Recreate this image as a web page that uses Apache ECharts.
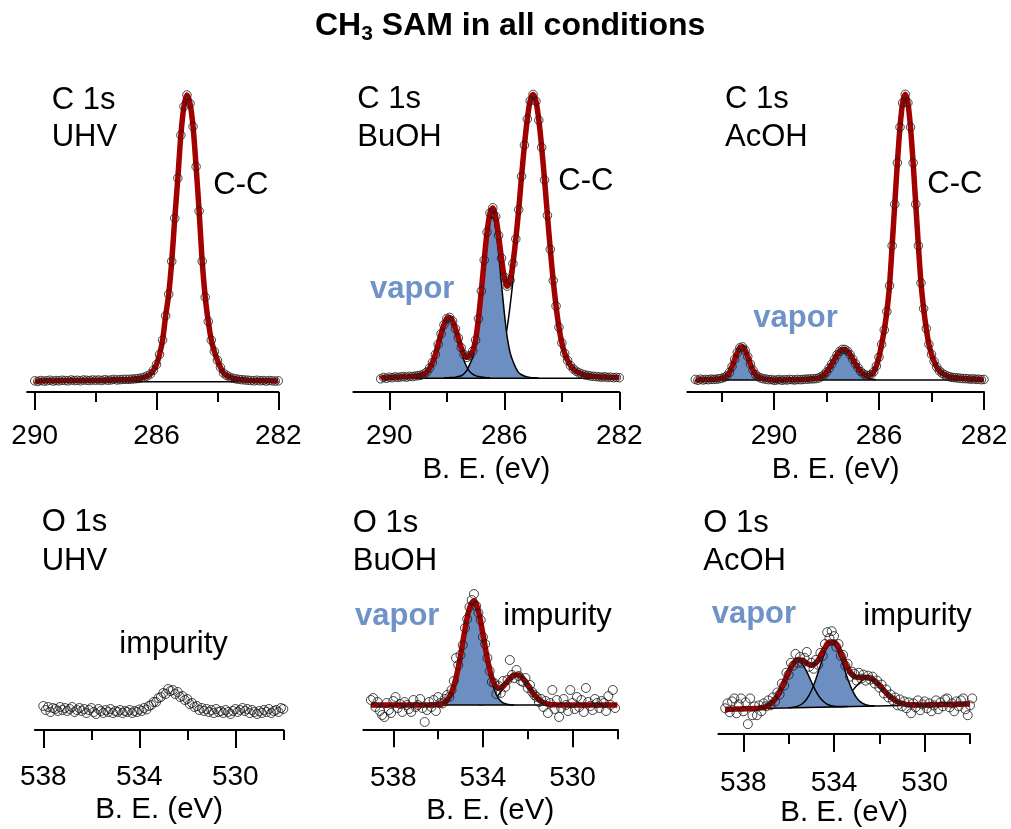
<!DOCTYPE html>
<html>
<head>
<meta charset="utf-8">
<script src="https://cdn.jsdelivr.net/npm/echarts@6/dist/echarts.min.js"></script>
<style>
  html, body { margin: 0; padding: 0; background: #fff; }
  #chart { width: 1011px; height: 829px; }
</style>
</head>
<body>
<div id="chart"></div>
<script>
// XPS spectra of the CH3 SAM: binding energy in eV, intensity in arbitrary units.
// Measured points are sampled every 0.1 eV from the start energy downwards;
// fit curves and components of the O 1s spectra every 0.2 eV.

// ---- C 1s, UHV (from 290.0 eV) ----
const c1sUhvStart = 290.0;
const c1sUhvCounts = [
  0.3, 0.1, 0.4, 0.2, 0.3, 0.5, 0.2, 0.4, 0.3, 0.5,
  0.4, 0.3, 0.6, 0.4, 0.5, 0.3, 0.6, 0.5, 0.4, 0.6,
  0.5, 0.6, 0.4, 0.7, 0.5, 0.6, 0.8, 0.6, 0.7, 0.8,
  0.8, 0.8, 0.9, 1.0, 1.1, 1.3, 1.6, 2.0, 2.7, 4.0,
  6.0, 9.5, 14.5, 23, 30.5, 42, 57, 71, 86, 96,
  100, 97, 89, 75, 59.5, 42, 29.5, 21, 14.5, 10.5,
  7.5, 5, 3, 2.2, 1.6, 1.2, 1.0, 0.8, 0.7, 0.6,
  0.5, 0.4, 0.3, 0.5, 0.3, 0.4, 0.2, 0.4, 0.3, 0.2, 0.3
];

// ---- C 1s, BuOH (from 290.3 eV) ----
const c1sBuohStart = 290.3;
const c1sBuohCounts = [
  -0.2, 0.3, 0.0, 0.4, 0.2, 0.5, 0.3, 0.5, 0.6, 0.4,
  0.7, 0.6, 0.8, 0.9, 1.1, 1.5, 2.2, 3.6, 5.6, 8.4,
  12.0, 15.7, 18.9, 21.1, 21.5, 20.2, 17.5, 14.2, 10.8, 8.4,
  7.4, 8.0, 9.6, 13.5, 21.0, 30.8, 41.7, 51.6, 58.3, 60.2,
  57.1, 50.4, 42.4, 35.7, 32.5, 34.6, 40.5, 49.2, 59.5, 71.3,
  82.3, 91.5, 98.0, 100.2, 97.8, 91.1, 81.5, 70.0, 57.5, 45.5,
  34.5, 25.5, 18.0, 12.5, 8.8, 6.3, 4.5, 3.3, 2.5, 1.9,
  1.5, 1.2, 1.0, 0.8, 0.7, 0.6, 0.5, 0.4, 0.5, 0.3,
  0.4, 0.2, 0.3, 0.2
];
const c1sBuohVapor1Start = 289.6;
const c1sBuohVapor1 = [
  0.13, 0.17, 0.2, 0.25, 0.34, 0.46, 0.63, 0.84, 1.26, 2.1,
  3.36, 5.36, 8.1, 11.6, 15.3, 18.5, 20.6, 20.9, 19.5, 16.7,
  13.1, 9.4, 6.2, 3.9, 2.3, 1.5, 0.95, 0.63, 0.42, 0.32, 0.21, 0.17
];
const c1sBuohVapor2Start = 288.1;
const c1sBuohVapor2 = [
  0.15, 0.2, 0.25, 0.3, 0.4, 0.6, 0.9, 1.6, 2.85, 5.0,
  7.4, 11.7, 19.4, 29.2, 39.9, 49.5, 55.6, 56.8, 52.5, 44.0,
  33.5, 23.1, 14.5, 9.1, 6.0, 3.7, 2.0, 1.25, 0.8, 0.5,
  0.3, 0.2, 0.15, 0.1
];
const c1sBuohCCStart = 287.0;
const c1sBuohCC = [
  0.8, 1.0, 1.2, 1.5, 1.9, 2.5, 3.3, 4.5, 6.3, 8.8,
  12.5, 18, 25.5, 34.5, 45.5, 57.5, 70, 81.5, 91, 97.7,
  100, 97.7, 91, 81.5, 70, 57.5, 45.5, 34.5, 25.5, 18,
  12.5, 8.8, 6.3, 4.5, 3.3, 2.5, 1.9, 1.5, 1.2, 1.0, 0.8
];

// ---- C 1s, AcOH (from 293.0 eV) ----
const c1sAcohStart = 293.0;
const c1sAcohCounts = [
  0.2, -0.1, 0.3, 0.0, 0.2, 0.1, 0.3, 0.2, 0.3, 0.4,
  0.6, 0.9, 1.4, 2.7, 4.7, 7.2, 9.6, 11.3, 11.6, 10.4,
  8.2, 5.6, 3.4, 1.9, 1.1, 0.7, 0.4, 0.3, 0.1, 0.2,
  -0.1, 0.0, 0.2, -0.1, 0.1, 0.0, 0.2, 0.1, 0.0, 0.2,
  0.1, 0.2, 0.3, 0.3, 0.4, 0.4, 0.5, 0.7, 1.15, 1.8,
  2.8, 4.1, 5.6, 7.2, 8.8, 10.0, 10.7, 10.7, 10.1, 8.9,
  7.3, 5.7, 4.3, 3.0, 2.2, 1.7, 1.5, 1.9, 2.9, 4.9,
  8.0, 12.5, 17.5, 24, 33, 47, 61.5, 76, 88.5, 97,
  100, 97, 88.5, 76, 61.5, 47, 34, 25, 18, 12.5,
  9, 6.5, 4.5, 3.2, 2.4, 1.8, 1.4, 1.1, 0.9, 0.8,
  0.7, 0.6, 0.5, 0.5, 0.4, 0.3, 0.4, 0.2, 0.3, 0.1,
  0.2
];
const c1sAcohVapor1Start = 292.2;
const c1sAcohVapor1 = [
  0.1, 0.2, 0.35, 0.65, 1.25, 2.5, 4.5, 7.0, 9.4, 11.1,
  11.4, 10.2, 8.0, 5.45, 3.2, 1.7, 0.9, 0.5, 0.3, 0.2
];
const c1sAcohVapor2Start = 288.6;
const c1sAcohVapor2 = [
  0.07, 0.14, 0.28, 0.54, 0.98, 1.65, 2.6, 3.9, 5.4, 7.0,
  8.55, 9.75, 10.4, 10.4, 9.75, 8.55, 7.0, 5.4, 3.9, 2.6,
  1.65, 0.98, 0.54, 0.28, 0.14, 0.07
];

// ---- O 1s, UHV (from 538.0 eV) ----
const o1sUhvStart = 538.0;
const o1sUhvCounts = [
  4, 0, 3, -2, 2, 1, -1, 3, 0, 2,
  -1, 1, 3, -2, 0, 2, -1, 1, -3, 0,
  2, -2, -4, 1, -1, -3, 0, -2, 1, -3,
  -1, -2, 0, -3, -1, -2, 0, -3, -1, -2,
  0.5, -1, 2, 0.5, 4, 5, 8, 8, 12, 13,
  17, 16, 21, 19, 20, 16, 18, 13, 14, 10,
  11, 6, 7, 3, 4, 0, 2, -1, 1, -2,
  0, -3, 1, -2, -1, -3, 0, -2, -4, -1,
  1, -2, 0, 2, -1, 1, -3, 0, -2, -4,
  -1, -3, 0, -2, 1, -3, -1, 0, -2, 2,
  1
];

// ---- O 1s, BuOH (from 539.0 eV) ----
const o1sBuohStart = 539.0;
const o1sBuohCounts = [
  5, 7, -2, 3, -6, -10, -12, 2, -5, -8,
  4, 8, -3, 1, -7, 3, 0, -4, -7, 5,
  -2, 0, 6, -3, -17, -5, 3, -2, 5, -6,
  8, 2, 1.5, 6, 10, 8, 15, 24, 47, 40,
  50, 60, 77, 86, 98, 105, 111, 99, 92, 85,
  68, 61, 47, 34, 23, 22, 11, 19, 12, 24,
  18, 25, 45, 30, 27, 35, 29, 24, 23, 27,
  17, 20, 13, 10, 8, 3, 6, -2, 4, -8,
  2, 15, -4, 5, -12, -3, 6, 0, -6, 15,
  2, -4, 8, -2, 5, -7, 17, 3, -1, -5,
  6, 2, -3, 4, 2, -6, 9, 0, 15, -3
];
const o1sBuohFit = [
  0, 0, 0, 0, 0, 0, 0, 0, 0, 0,
  0, 0, 0, 0, 0.1, 0.4, 1.5, 4.7, 12.4, 27.0,
  49.3, 75.5, 96.8, 104.0, 93.6, 70.9, 46.1, 27.2, 17.9, 17.0,
  21.1, 26.4, 30.0, 30.0, 26.1, 19.9, 13.2, 7.6, 3.8, 1.7,
  0.6, 0.2, 0, 0, 0, 0, 0, 0, 0, 0,
  0, 0, 0, 0, 0, 0
];
const o1sBuohVaporStart = 536.4;
const o1sBuohVapor = [
  0, 0.1, 0.4, 1.5, 4.7, 12.4, 27.0, 49.3, 75.5, 96.8,
  104.0, 93.4, 70.3, 44.4, 23.4, 10.3, 3.8, 1.2, 0.3, 0.1
];
const o1sBuohImpurityStart = 534.2;
const o1sBuohImpurity = [
  0.2, 0.6, 1.7, 3.8, 7.6, 13.2, 19.9, 26.1, 30.0, 30.0,
  26.1, 19.9, 13.2, 7.6, 3.8, 1.7, 0.6, 0.2
];

// ---- O 1s, AcOH (from 538.8 eV) ----
const o1sAcohStart = 538.8;
const o1sAcohCounts = [
  1, 6, -3, 8, 11, -4, 5, 11, -2, 7,
  -15, 11, -6, 3, -6, 4, -2, 6, 3, 9,
  4, 12, 8, 17, 15, 26, 24, 37, 35, 47,
  44, 56, 47, 53, 47, 52, 58, 43, 47, 41,
  50, 45, 57, 54, 66, 78, 72, 79, 74, 63,
  66, 54, 55, 44, 46, 33, 38, 36, 29, 37,
  31, 35, 29, 34, 30, 33, 26, 29, 22, 25,
  16, 20, 12, 15, 9, 12, 4, 10, 3, 8,
  1, 7, -4, 6, 2, 9, -1, 5, 8, 1,
  6, -2, 4, 9, 0, 7, 3, 10, 11, 2,
  6, -2, 8, 3, 9, 11, 0, -6, 4, 11
];
const o1sAcohFit = [
  0, 0.1, 0.2, 0.3, 0.4, 0.5, 0.66, 0.9, 1.5, 2.7,
  5.4, 10.1, 17.5, 27.2, 37.7, 46.0, 50.1, 49.6, 46.5, 44.6,
  46.8, 53.7, 62.2, 68.0, 68.1, 61.7, 51.8, 41.9, 35.3, 32.3,
  32.1, 32.3, 31.4, 28.7, 24.2, 19.2, 14.3, 10.4, 7.6, 5.9,
  4.9, 4.5, 4.35, 4.35, 4.4, 4.5, 4.6, 4.7, 4.8, 4.9,
  5.0, 5.1, 5.2, 5.3, 5.4
];
const o1sAcohVapor1Start = 537.8;
const o1sAcohVapor1 = [
  0.5, 0.7, 0.9, 1.5, 2.7, 5.4, 10.1, 17.5, 27.2, 37.5,
  45.5, 48.6, 45.7, 37.9, 27.8, 18.3, 11.1, 6.6, 4.1, 3.1,
  2.7, 2.7, 2.7
];
const o1sAcohVapor2Start = 536.0;
const o1sAcohVapor2 = [
  1.6, 2.0, 3.1, 5.6, 10.4, 18.7, 30.5, 44.5, 57.4, 65.3,
  65.4, 57.7, 45.0, 31.2, 19.6, 11.5, 6.9, 4.6, 3.7, 3.5
];
const o1sAcohImpurityStart = 534.4;
const o1sAcohImpurity = [
  2.6, 3.2, 4.4, 6.3, 9.3, 13.4, 18.5, 23.7, 28.2, 30.8,
  30.9, 28.5, 24.2, 19.2, 14.3, 10.4, 7.6, 5.9, 4.9, 4.5, 4.35
];

// Background lines: [B.E., intensity] end points
const c1sUhvBackground = [[290.0, 0], [282.0, 0]];
const c1sBuohBackground = [[290.3, 0], [282.0, 0]];
const c1sAcohBackground = [[293.0, 0], [282.0, 0]];
const o1sBuohBackground = [[539.0, 0], [528.0, 0]];
const o1sAcohBackground = [[538.8, 0], [528.0, 5.4]];

// axis tick values
const c1sMajorTicks = [290, 286, 282];
const c1sMinorTicks = [288, 284];
const c1sAcohMinorTicks = [292, 288, 284];
const o1sMajorTicks = [538, 534, 530];
const o1sMinorTicks = [536, 532, 528];

// ---- drawing ----
const STEP = 0.1, FIT_STEP = 0.2;
const FONT = '"Liberation Sans", Arial, Helvetica, sans-serif';
const RED = '#a30000';
const BLUE_FILL = '#6d8ec0';
const BLUE_TEXT = '#7093c7';

function pts(start, dx, ys) {
  return ys.map((y, i) => [+(start - dx * i).toFixed(2), y]);
}

const panels = [
  { grid: { left: 27.1, top: 60, width: 251.2, height: 332 }, x: [282, 290.25], y: [-3.6, 112.2],
    major: c1sMajorTicks, minor: c1sMinorTicks, name: '', margin: 30, gap: 63 },
  { grid: { left: 353.4, top: 60, width: 265.9, height: 332 }, x: [282, 291.25], y: [-4.84, 112.35],
    major: c1sMajorTicks, minor: c1sMinorTicks, name: 'B. E. (eV)', margin: 30, gap: 63 },
  { grid: { left: 687.4, top: 60, width: 296.6, height: 332 }, x: [282, 293.3], y: [-4.2, 112.0],
    major: c1sMajorTicks, minor: c1sAcohMinorTicks, name: 'B. E. (eV)', margin: 30, gap: 63 },
  { grid: { left: 34.9, top: 560, width: 248.4, height: 170 }, x: [528, 538.35], y: [-20, 150],
    major: o1sMajorTicks, minor: o1sMinorTicks, name: 'B. E. (eV)', margin: 33, gap: 65 },
  { grid: { left: 363.3, top: 560, width: 254.0, height: 169.3 }, x: [528, 539.34], y: [-24.3, 145],
    major: o1sMajorTicks, minor: o1sMinorTicks, name: 'B. E. (eV)', margin: 35, gap: 67 },
  { grid: { left: 718.4, top: 560, width: 251.6, height: 176 }, x: [528, 539.1], y: [-25, 151],
    major: o1sMajorTicks, minor: o1sMinorTicks, name: 'B. E. (eV)', margin: 35, gap: 64 }
];

const grids = [], xAxes = [], yAxes = [], series = [];

panels.forEach((p, k) => {
  grids.push(Object.assign({ containLabel: false }, p.grid));
  xAxes.push({
    type: 'value', gridIndex: k, min: p.x[0], max: p.x[1], inverse: true, position: 'bottom',
    axisLine: { show: true, onZero: false, lineStyle: { color: '#000', width: 2 } },
    axisTick: { show: true, length: 18, lineStyle: { color: '#000', width: 2 }, customValues: p.major },
    axisLabel: { show: true, customValues: p.major, margin: p.margin, color: '#000',
                 fontSize: 28, fontFamily: FONT },
    splitLine: { show: false },
    name: p.name, nameLocation: 'middle', nameGap: p.gap,
    nameTextStyle: { color: '#000', fontSize: 29.5, fontFamily: FONT }
  });
  xAxes.push({
    type: 'value', gridIndex: k, min: p.x[0], max: p.x[1], inverse: true, position: 'bottom',
    axisLine: { show: false, onZero: false },
    axisTick: { show: true, length: 10, lineStyle: { color: '#000', width: 2 }, customValues: p.minor },
    axisLabel: { show: false },
    splitLine: { show: false }
  });
  yAxes.push({ type: 'value', gridIndex: k, min: p.y[0], max: p.y[1], show: false, splitLine: { show: false } });
});

function ax(k) { return { xAxisIndex: 2 * k, yAxisIndex: k }; }

function points(k, data, size) {
  return Object.assign({
    type: 'scatter', data, symbol: 'circle', symbolSize: size, clip: false, silent: true, z: 6,
    itemStyle: { color: 'rgba(255,255,255,0)', borderColor: '#1a1a1a', borderWidth: 1 }
  }, ax(k));
}
function fitLine(k, data, smooth) {
  return Object.assign({
    type: 'line', data, showSymbol: false, smooth, clip: false, silent: true, z: 5,
    lineStyle: { color: RED, width: 5.5 }
  }, ax(k));
}
function thinLine(k, data, z) {
  return Object.assign({
    type: 'line', data, showSymbol: false, smooth: 0.3, clip: false, silent: true, z,
    lineStyle: { color: '#000', width: 1.5 }
  }, ax(k));
}
function vaporFill(k, data, origin) {
  return Object.assign({
    type: 'line', data, showSymbol: false, smooth: 0.3, clip: false, silent: true, z: 2,
    lineStyle: { width: 0, opacity: 0 },
    areaStyle: { color: BLUE_FILL, opacity: 1, origin }
  }, ax(k));
}

// C 1s UHV
series.push(thinLine(0, c1sUhvBackground, 3));
const c1sUhv = pts(c1sUhvStart, STEP, c1sUhvCounts);
series.push(fitLine(0, c1sUhv, 0.3), points(0, c1sUhv, 8.5));

// C 1s BuOH
series.push(thinLine(1, pts(c1sBuohCCStart, STEP, c1sBuohCC), 1));
const bv1 = pts(c1sBuohVapor1Start, STEP, c1sBuohVapor1);
const bv2 = pts(c1sBuohVapor2Start, STEP, c1sBuohVapor2);
series.push(vaporFill(1, bv1, 0), vaporFill(1, bv2, 0));
series.push(thinLine(1, bv1, 3), thinLine(1, bv2, 3), thinLine(1, c1sBuohBackground, 3));
const c1sBuoh = pts(c1sBuohStart, STEP, c1sBuohCounts);
series.push(fitLine(1, c1sBuoh, 0.3), points(1, c1sBuoh, 8.5));

// C 1s AcOH
const av1 = pts(c1sAcohVapor1Start, STEP, c1sAcohVapor1);
const av2 = pts(c1sAcohVapor2Start, STEP, c1sAcohVapor2);
series.push(vaporFill(2, av1, 0), vaporFill(2, av2, 0));
series.push(thinLine(2, av1, 3), thinLine(2, av2, 3), thinLine(2, c1sAcohBackground, 3));
const c1sAcoh = pts(c1sAcohStart, STEP, c1sAcohCounts);
series.push(fitLine(2, c1sAcoh, 0.3), points(2, c1sAcoh, 8.5));

// O 1s UHV
series.push(points(3, pts(o1sUhvStart, STEP, o1sUhvCounts), 9));

// O 1s BuOH
series.push(thinLine(4, pts(o1sBuohImpurityStart, FIT_STEP, o1sBuohImpurity), 1));
const obv = pts(o1sBuohVaporStart, FIT_STEP, o1sBuohVapor);
series.push(vaporFill(4, obv, 0), thinLine(4, obv, 3), thinLine(4, o1sBuohBackground, 3));
series.push(fitLine(4, pts(o1sBuohStart, FIT_STEP, o1sBuohFit), 0.4));
series.push(points(4, pts(o1sBuohStart, STEP, o1sBuohCounts), 9));

// O 1s AcOH
series.push(thinLine(5, pts(o1sAcohImpurityStart, FIT_STEP, o1sAcohImpurity), 1));
const oav1 = pts(o1sAcohVapor1Start, FIT_STEP, o1sAcohVapor1);
const oav2 = pts(o1sAcohVapor2Start, FIT_STEP, o1sAcohVapor2);
series.push(vaporFill(5, oav1, 1.6), vaporFill(5, oav2, 2.35));
series.push(thinLine(5, oav1, 3), thinLine(5, oav2, 3), thinLine(5, o1sAcohBackground, 3));
series.push(fitLine(5, pts(o1sAcohStart, FIT_STEP, o1sAcohFit), 0.4));
series.push(points(5, pts(o1sAcohStart, STEP, o1sAcohCounts), 9));

// ---- annotations: [x, baseline y, text, style] ----
const labels = [
  [51.7, 110.7, 'C 1s'], [51.7, 148.3, 'UHV'], [213.3, 196, 'C-C'],
  [357.3, 110.5, 'C 1s'], [357.3, 148.3, 'BuOH'], [558.3, 192, 'C-C'], [370, 300, 'vapor', 'v'],
  [725, 110.5, 'C 1s'], [725, 148.3, 'AcOH'], [927.3, 195, 'C-C'], [753.3, 329.3, 'vapor', 'v'],
  [41.7, 533.5, 'O 1s'], [41.7, 571.7, 'UHV'], [119.3, 655, 'impurity'],
  [352.7, 534, 'O 1s'], [352.7, 572.3, 'BuOH'], [355, 626.7, 'vapor', 'v'], [503.3, 626.7, 'impurity'],
  [703.3, 534, 'O 1s'], [703.3, 572, 'AcOH'], [711.7, 625, 'vapor', 'v'], [863.3, 626.7, 'impurity']
];
const SIZE = 31;
const graphic = labels.map(([x, base, text, kind]) => ({
  type: 'text', x, y: base - 0.3465 * SIZE, silent: true, z: 10,
  style: {
    text,
    font: (kind === 'v' ? 'bold ' : '') + SIZE + 'px ' + FONT,
    fill: kind === 'v' ? BLUE_TEXT : '#000',
    textAlign: 'left', textVerticalAlign: 'middle', align: 'left', verticalAlign: 'middle'
  }
}));

const chart = echarts.init(document.getElementById('chart'), null, { renderer: 'canvas' });
chart.setOption({
  animation: false,
  backgroundColor: '#fff',
  title: {
    text: '{m|CH}{s|3}{m| SAM in all conditions}',
    left: 310, top: 2,
    textStyle: {
      rich: {
        m: { fontFamily: FONT, fontWeight: 'bold', fontSize: 32, lineHeight: 38, color: '#000' },
        s: { fontFamily: FONT, fontWeight: 'bold', fontSize: 21, lineHeight: 21, verticalAlign: 'bottom', color: '#000' }
      }
    }
  },
  grid: grids,
  xAxis: xAxes,
  yAxis: yAxes,
  series,
  graphic
});
</script>
</body>
</html>
